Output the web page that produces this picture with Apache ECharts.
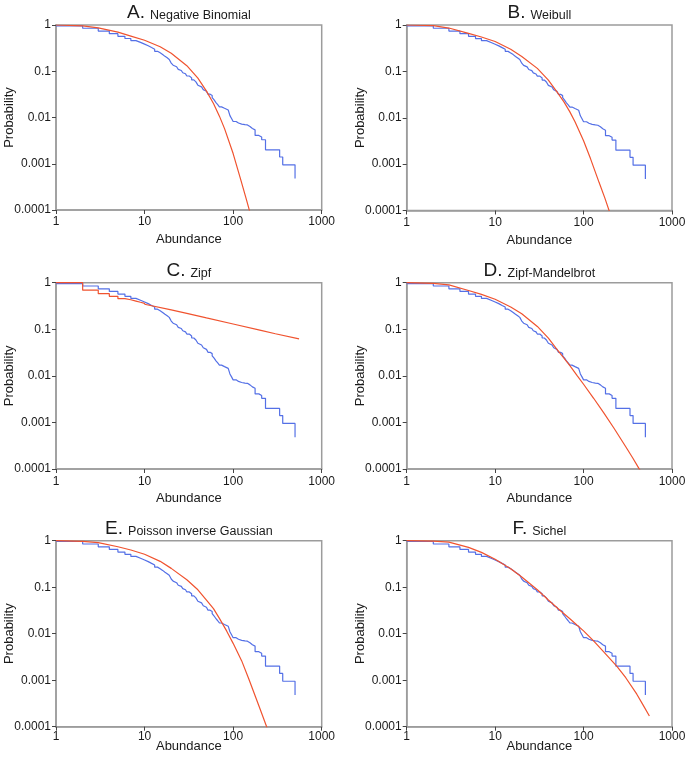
<!DOCTYPE html>
<html><head><meta charset="utf-8">
<script src="https://cdn.jsdelivr.net/npm/echarts@6/dist/echarts.min.js"></script>
<style>html,body{margin:0;padding:0;background:#fff}#c{width:685px;height:761px}</style>
</head><body><div id="c"></div>
<script>
// ---------- text ----------
const panelLetters = ['A.', 'B.', 'C.', 'D.', 'E.', 'F.'];
const panelNames = ['Negative Binomial', 'Weibull', 'Zipf', 'Zipf-Mandelbrot', 'Poisson inverse Gaussian', 'Sichel'];
const xTickLabels = ['1', '10', '100', '1000'];
const yTickLabels = ['0.0001', '0.001', '0.01', '0.1', '1'];
const xAxisTitle = 'Abundance';
const yAxisTitle = 'Probability';

// ---------- observed (empirical) distribution, same in every panel ----------
const obsAbundance = [1,2,3,4,5,6,7,8,9,10,11,12,13,14,15,16,17,18,19,20,21,22,23,24,25,26,27,28,29,30,32,34,36,38,40,42,44,46,48,50,52,55,58,61,64,67,70,74,80,88,92,96,100,108,115,125,136,145,155,165,177,195,210,232,335,363,500];
const obsProbability = [0.96,0.85,0.74,0.65,0.57,0.51,0.46,0.42,0.385,0.355,0.325,0.30,0.27,0.25,0.23,0.21,0.195,0.18,0.165,0.15,0.135,0.125,0.117,0.11,0.104,0.098,0.093,0.088,0.083,0.079,0.072,0.065,0.059,0.054,0.050,0.046,0.043,0.040,0.037,0.034,0.032,0.030,0.027,0.024,0.021,0.019,0.017,0.0158,0.0145,0.0134,0.011,0.0095,0.0082,0.0076,0.0072,0.0070,0.0069,0.0064,0.0058,0.0054,0.0041,0.0038,0.0033,0.0020,0.0014,0.00095,0.00048];

// ---------- fitted models ----------
const negBinX = [1,2,3,5,7,10,15,20,30,40,50,60,70,80,100,120,140,160];
const negBinP = [1,0.955,0.87,0.70,0.575,0.468,0.339,0.245,0.132,0.0708,0.0372,0.020,0.0107,0.00575,0.00166,0.0005,0.000178,0.000071];

const weibullX = [1,2,3,5,7,10,15,20,30,40,50,60,70,80,100,120,150,175,200];
const weibullP = [1,0.97,0.86,0.66,0.55,0.44,0.30,0.21,0.116,0.065,0.036,0.022,0.0134,0.0082,0.0032,0.0013,0.0004,0.00018,0.000085];

const zipfStepX = [1,2,3,4,5,6,7,8,9,10];
const zipfStepP = [1,0.69,0.58,0.51,0.455,0.43,0.403,0.38,0.361,0.345];
const zipfTailX = [10,20,30,50,100,200,300,555];
const zipfTailP = [0.345,0.26,0.22,0.175,0.13,0.096,0.08,0.062];

const zipfMandX = [1,2,3,5,7,10,15,20,30,40,50,60,70,85,100,130,170,220,300,360,424,470];
const zipfMandP = [1,0.97,0.90,0.68,0.56,0.44,0.30,0.215,0.115,0.0645,0.037,0.024,0.0166,0.010,0.0066,0.0033,0.00158,0.00076,0.0003,0.000172,0.000102,0.000073];

const pigX = [1,2,3,5,7,10,15,20,30,40,50,60,70,85,100,125,150,200,239,260];
const pigP = [1,0.97,0.91,0.74,0.63,0.51,0.36,0.254,0.145,0.088,0.053,0.0347,0.0214,0.0112,0.0062,0.0026,0.00107,0.00025,0.0001,0.00006];

const sichelX = [1,2,3,5,7,10,15,20,30,40,54,70,84,100,129,170,237,300,400,470,555];
const sichelP = [1,0.98,0.93,0.72,0.56,0.40,0.25,0.165,0.088,0.053,0.032,0.021,0.0154,0.0115,0.0071,0.0040,0.0020,0.00113,0.0005,0.000295,0.00017];

// ---------- layout / style ----------
const gridRects = [
  [56, 25, 265.7, 185], [406.7, 25, 265.3, 185.5],
  [56, 282.7, 265.7, 186.3], [406.7, 282.7, 265.3, 186.3],
  [56, 540.7, 265.7, 186], [406.7, 540.7, 265.3, 186]
];
const xLabelMargin = [6, 6, 7, 7, 4, 4];
const xNameGap = [23, 23, 22.5, 22.5, 13.5, 13.5];
const BLUE = '#5470e6';
const RED = '#f0532f';
const FONT = '"Liberation Sans", Arial, Helvetica, sans-serif';
const TXT = '#1a1a1a';

const pairs = (xs, ys) => xs.map((x, i) => [x, ys[i]]);
const fitted = [
  [{x: negBinX, p: negBinP}],
  [{x: weibullX, p: weibullP}],
  [{x: zipfStepX, p: zipfStepP, step: true}, {x: zipfTailX, p: zipfTailP}],
  [{x: zipfMandX, p: zipfMandP}],
  [{x: pigX, p: pigP}],
  [{x: sichelX, p: sichelP}]
];

const grid = [], xAxis = [], yAxis = [], series = [], title = [];
gridRects.forEach((r, i) => {
  const [l, t, w, h] = r;
  grid.push({left: l, top: t, width: w, height: h, show: true, borderColor: '#9c9c9c', borderWidth: 1.5,
    backgroundColor: 'transparent', containLabel: false, outerBoundsMode: 'none'});
  xAxis.push({
    gridIndex: i, type: 'log', logBase: 10, min: 1, max: 1000,
    name: xAxisTitle, nameLocation: 'middle', nameGap: xNameGap[i], nameMoveOverlap: false,
    nameTextStyle: {fontSize: 13, color: TXT, fontFamily: FONT},
    axisLine: {show: true, lineStyle: {color: '#9c9c9c', width: 1.5}},
    axisTick: {show: true, length: 4, lineStyle: {color: '#444', width: 1}},
    minorTick: {show: false}, splitLine: {show: false},
    axisLabel: {fontSize: 12, color: TXT, fontFamily: FONT, margin: xLabelMargin[i],
      formatter: v => xTickLabels[Math.round(Math.log10(v))]}
  });
  yAxis.push({
    gridIndex: i, type: 'log', logBase: 10, min: 0.0001, max: 1,
    name: yAxisTitle, nameLocation: 'middle', nameGap: 40, nameMoveOverlap: false,
    nameTextStyle: {fontSize: 13, color: TXT, fontFamily: FONT},
    axisLine: {show: true, lineStyle: {color: '#9c9c9c', width: 1.5}},
    axisTick: {show: true, length: 4, lineStyle: {color: '#444', width: 1}},
    minorTick: {show: false}, splitLine: {show: false},
    axisLabel: {fontSize: 12, color: TXT, fontFamily: FONT, margin: 5,
      formatter: v => yTickLabels[Math.round(Math.log10(v)) + 4]}
  });
  series.push({
    type: 'line', xAxisIndex: i, yAxisIndex: i, step: 'end', showSymbol: false, clip: true,
    data: pairs(obsAbundance, obsProbability),
    lineStyle: {color: BLUE, width: 1.2}, itemStyle: {color: BLUE}, z: 2
  });
  fitted[i].forEach(f => {
    series.push({
      type: 'line', xAxisIndex: i, yAxisIndex: i, showSymbol: false, clip: true,
      step: f.step ? 'end' : false, smooth: false,
      data: pairs(f.x, f.p),
      lineStyle: {color: RED, width: 1.2}, itemStyle: {color: RED}, z: 3
    });
  });
  title.push({
    text: '{l|' + panelLetters[i] + '} {n|' + panelNames[i] + '}',
    left: l + w / 2, top: t - 8.3 - 12.5, textAlign: 'center', padding: 0,
    textStyle: {
      fontFamily: FONT, color: TXT, fontWeight: 'normal',
      rich: {
        l: {fontSize: 19, lineHeight: 12.5, verticalAlign: 'bottom', fontFamily: FONT, color: TXT, fontWeight: 'normal'},
        n: {fontSize: 12.5, lineHeight: 8.3, verticalAlign: 'bottom', fontFamily: FONT, color: TXT, fontWeight: 'normal'}
      }
    }
  });
});

const chart = echarts.init(document.getElementById('c'), null, {renderer: 'canvas'});
chart.setOption({animation: false, backgroundColor: '#fff', title, grid, xAxis, yAxis, series});
</script>
</body></html>
